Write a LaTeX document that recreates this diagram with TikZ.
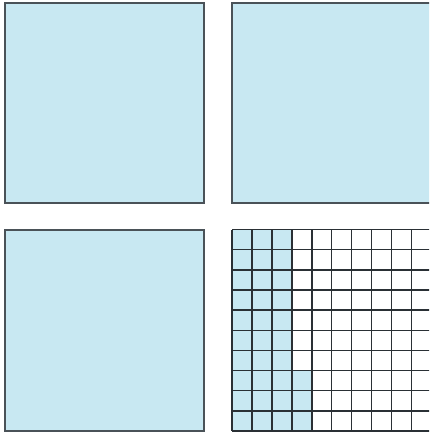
\documentclass[tikz,border=0pt]{standalone}
\definecolor{fillblue}{HTML}{C8E8F2}
\definecolor{edgegray}{HTML}{4A5258}
\definecolor{griddark}{HTML}{2A3035}
\begin{document}
\begin{tikzpicture}[x=1pt,y=-1pt,
  bigsq/.style={fill=fillblue,draw=edgegray,line width=1.6pt},
  gridln/.style={draw=griddark,line width=1.4pt}]
\useasboundingbox (0,0) rectangle (429,436);
\clip (0,0) rectangle (429,436);
\fill[white] (0,0) rectangle (429,436);
% top-left
\draw[bigsq] (5,3) rectangle (204,203);
% top-right
\draw[bigsq] (232,3) rectangle (431.5,203);
% bottom-left
\draw[bigsq] (5,230) rectangle (204,431);
% bottom-right grid
\begin{scope}[shift={(232,229.5)},x=19.95pt,y=-20.15pt]
  \fill[fillblue] (0,0) rectangle (3,10);
  \fill[fillblue] (3,7) rectangle (4,10);
  \foreach \i in {0,...,10} {
    \draw[gridln] (\i,0) -- (\i,10);
    \draw[gridln] (0,\i) -- (10,\i);
  }
\end{scope}
\end{tikzpicture}
\end{document}
